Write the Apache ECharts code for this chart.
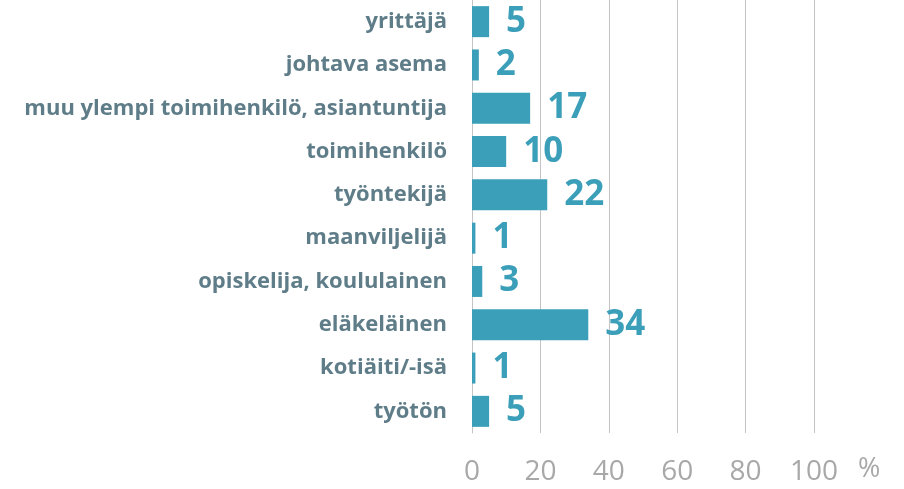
<!DOCTYPE html>
<html><head><meta charset="utf-8">
<script src="https://cdn.jsdelivr.net/npm/echarts@6/dist/echarts.min.js"></script>
<style>html,body{margin:0;padding:0;background:#fff}#c{width:904px;height:489px}</style>
</head><body><div id="c"></div>
<script>
const categories = ["yrittäjä","johtava asema","muu ylempi toimihenkilö, asiantuntija","toimihenkilö","työntekijä","maanviljelijä","opiskelija, koululainen","eläkeläinen","kotiäiti/-isä","työtön"];
const values = [5,2,17,10,22,1,3,34,1,5];
const xTicks = [0,20,40,60,80,100];

const chart = echarts.init(document.getElementById('c'), null, {renderer:'canvas'});
chart.setOption({
  animation:false,
  grid:{left:472, top:-4, width:342, height:437, containLabel:false},
  xAxis:{type:'value', min:0, max:100, interval:20,
    axisLine:{show:false}, axisTick:{show:false},
    splitLine:{show:true, lineStyle:{color:'#c4c4c4', width:1}},
    axisLabel:{color:'#a8a8a8', fontSize:28, fontFamily:'Open Sans', margin:25,
      formatter:v=>xTicks.includes(v)?String(v):''},
    name:'%', nameLocation:'end', nameGap:44,
    nameTextStyle:{color:'#a8a8a8', fontSize:27, fontFamily:'Open Sans', verticalAlign:'top', padding:[23,0,0,0]}
  },
  yAxis:{type:'category', data:categories, inverse:true,
    axisLine:{show:true, lineStyle:{color:'#c4c4c4'}}, axisTick:{show:false},
    axisLabel:{color:'#5f7d88', fontSize:22, fontWeight:'bold', fontFamily:'Open Sans', margin:25}
  },
  series:[{type:'bar', data:values, barWidth:31,
    itemStyle:{color:'#3c9fb9'},
    label:{show:true, position:'right', distance:17, color:'#3c9fb9', fontSize:35, fontWeight:'bold', fontFamily:'Open Sans'}
  }]
});
</script></body></html>
